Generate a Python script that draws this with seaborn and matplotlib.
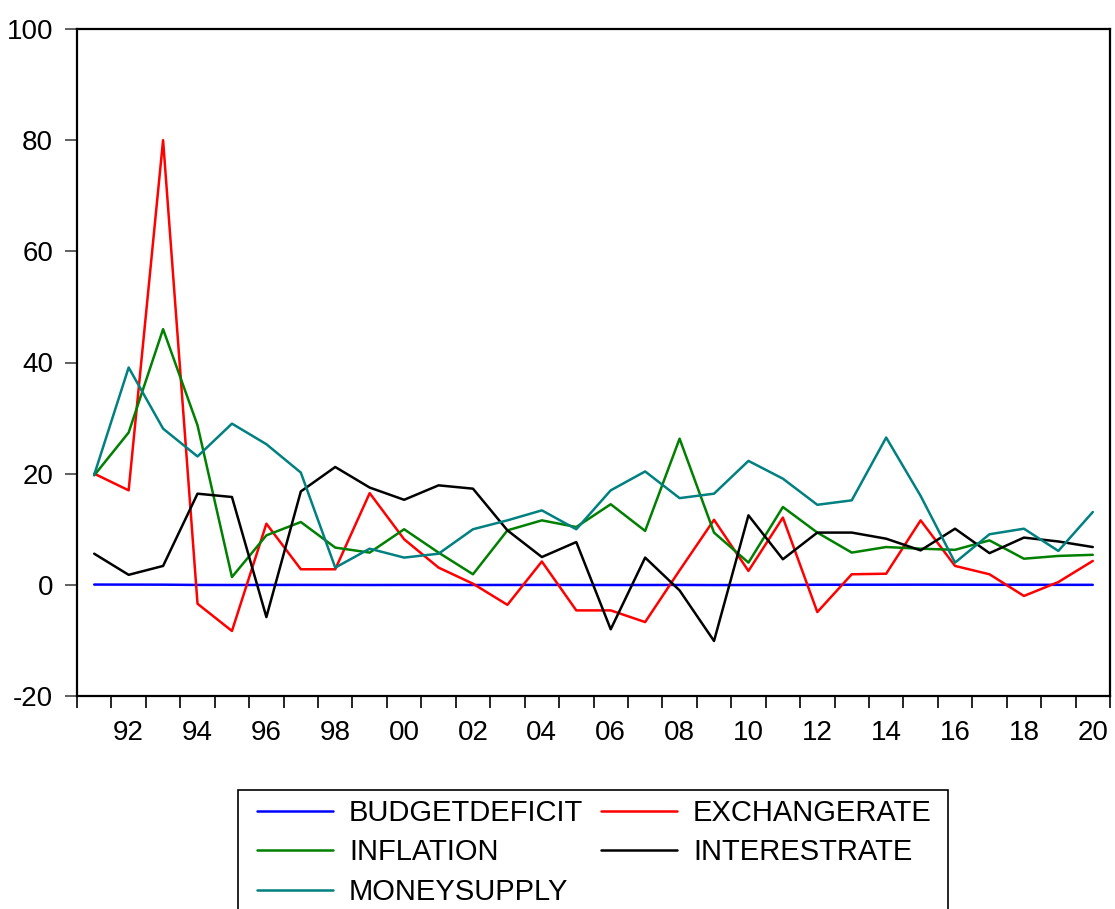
import numpy as np
import pandas as pd
import matplotlib
matplotlib.use("Agg")
import matplotlib.pyplot as plt
import seaborn as sns
from matplotlib.ticker import FixedLocator
from matplotlib.patches import Rectangle

years = list(range(1991, 2021))

budget_deficit = [0.05, 0.04, 0.03, -0.02, -0.03, -0.02, -0.01, -0.02, -0.03, -0.02,
                  -0.02, -0.03, -0.02, -0.01, -0.02, -0.03, -0.03, -0.02, -0.04, -0.03,
                  -0.02, 0.01, 0.02, 0.02, 0.03, 0.02, 0.01, 0.01, 0.0, 0.0]
exchange_rate = [20.0, 17.0, 80.0, -3.4, -8.3, 11.0, 2.8, 2.8, 16.5, 8.2,
                 3.1, 0.2, -3.6, 4.2, -4.6, -4.6, -6.7, 2.6, 11.7, 2.5,
                 12.1, -4.9, 1.9, 2.0, 11.6, 3.4, 1.9, -2.0, 0.5, 4.3]
inflation = [19.7, 27.4, 46.0, 28.7, 1.4, 8.9, 11.3, 6.7, 5.8, 10.0,
             5.8, 1.9, 9.8, 11.6, 10.4, 14.5, 9.7, 26.3, 9.4, 4.0,
             14.0, 9.4, 5.8, 6.8, 6.5, 6.3, 8.0, 4.7, 5.2, 5.4]
interest_rate = [5.6, 1.8, 3.4, 16.4, 15.8, -5.8, 16.8, 21.2, 17.5, 15.3,
                 17.9, 17.3, 9.8, 5.0, 7.7, -8.0, 4.9, -1.0, -10.1, 12.5,
                 4.6, 9.4, 9.4, 8.3, 6.2, 10.1, 5.7, 8.5, 7.8, 6.8]
money_supply = [19.8, 39.1, 28.1, 23.1, 29.0, 25.3, 20.2, 3.1, 6.5, 4.9,
                5.6, 10.0, 11.6, 13.4, 10.0, 17.0, 20.4, 15.6, 16.4, 22.3,
                19.1, 14.4, 15.2, 26.5, 16.0, 4.0, 9.1, 10.1, 6.1, 13.1]

series_names = ["BUDGETDEFICIT", "EXCHANGERATE", "INFLATION", "INTERESTRATE", "MONEYSUPPLY"]
series_colors = ["#0000FF", "#FF0000", "#008000", "#000000", "#008080"]

df = pd.DataFrame({
    "year": years,
    "BUDGETDEFICIT": budget_deficit,
    "EXCHANGERATE": exchange_rate,
    "INFLATION": inflation,
    "INTERESTRATE": interest_rate,
    "MONEYSUPPLY": money_supply,
})
long_df = df.melt(id_vars="year", var_name="series", value_name="value")

sns.set_style("white")
plt.rcParams["font.family"] = ["Liberation Sans", "DejaVu Sans"]
plt.rcParams["axes.unicode_minus"] = False
plt.rcParams["text.color"] = "black"
plt.rcParams["xtick.labelcolor"] = "black"
plt.rcParams["ytick.labelcolor"] = "black"

W, H = 1115, 909
fig = plt.figure(figsize=(W / 100, H / 100), dpi=100)
ax = fig.add_axes([77 / W, 1 - 696 / H, (1110 - 77) / W, (696 - 29) / H])

sns.lineplot(data=long_df, x="year", y="value", hue="series", hue_order=series_names,
             palette=series_colors, linewidth=1.8, ax=ax, legend=False)

ax.set_xlim(1990.5, 2020.5)
ax.set_ylim(-20, 100)
ax.set_xlabel("")
ax.set_ylabel("")

# labelled years sit on the data points, tick marks fall between years
label_years = list(range(1992, 2021, 2))
ax.xaxis.set_major_locator(FixedLocator(label_years))
ax.set_xticklabels([f"{y % 100:02d}" for y in label_years])
ax.xaxis.set_minor_locator(FixedLocator(np.arange(1990.5, 2021, 1.0)))
ax.tick_params(axis="x", which="major", length=0, pad=17, labelsize=20, bottom=True)
ax.tick_params(axis="x", which="minor", length=8.6, width=1.2, color="black", bottom=True)

ax.set_yticks([-20, 0, 20, 40, 60, 80, 100])
ax.tick_params(axis="y", which="major", length=8.6, width=1.2, color="#444444",
               pad=8.6, labelsize=20, left=True)

for side in ["left", "right", "top", "bottom"]:
    ax.spines[side].set_visible(True)
    ax.spines[side].set_color("black")
    ax.spines[side].set_linewidth(1.6)

# legend filled column-wise: two columns, three rows
lines = ax.get_lines()[:5]
order = [0, 2, 4, 1, 3]
leg = fig.legend([lines[i] for i in order], [series_names[i] for i in order],
                 loc="upper left", bbox_to_anchor=(257 / W, 1 - 799 / H),
                 ncol=2, fontsize=21, frameon=False,
                 handlelength=2.6, handletextpad=0.55, columnspacing=0.62,
                 borderpad=0, labelspacing=0.39, borderaxespad=0)

# legend box, running off the bottom edge of the figure
fig.patches.append(Rectangle((238 / W, -0.02), (948 - 238) / W, 0.02 + (909 - 790) / H,
                             transform=fig.transFigure, fill=False,
                             edgecolor="black", linewidth=1.2))

fig.savefig("out.png", dpi=100)
